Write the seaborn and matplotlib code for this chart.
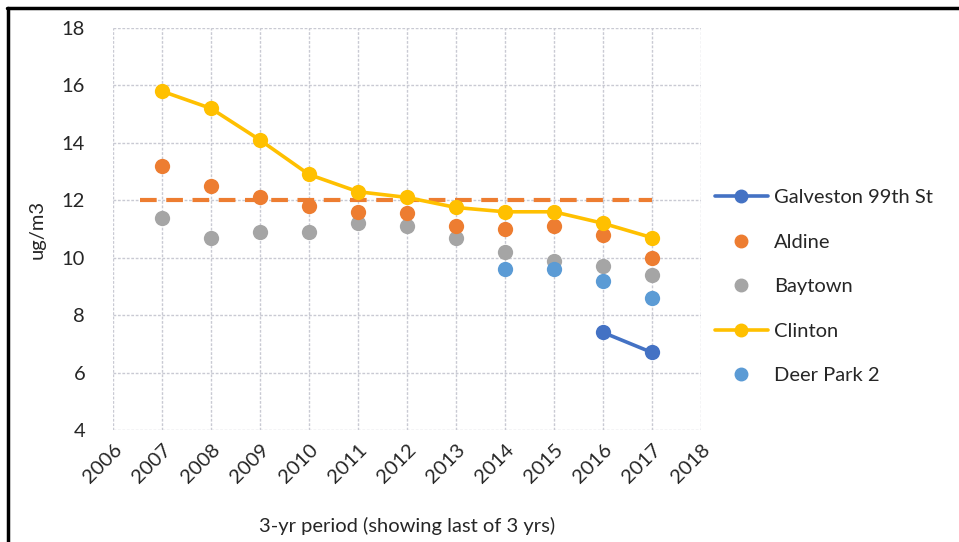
import matplotlib
matplotlib.use("Agg")
import matplotlib.pyplot as plt
from matplotlib.lines import Line2D
import seaborn as sns
import pandas as pd

# Annual values (3-yr period, labelled by the last year)
years = [2007, 2008, 2009, 2010, 2011, 2012, 2013, 2014, 2015, 2016, 2017]
galveston_years = [2016, 2017]
galveston = [7.4, 6.7]
aldine = [13.2, 12.5, 12.1, 11.8, 11.6, 11.55, 11.1, 11.0, 11.1, 10.8, 10.0]
baytown = [11.4, 10.7, 10.9, 10.9, 11.2, 11.1, 10.7, 10.2, 9.9, 9.7, 9.4]
clinton = [15.8, 15.2, 14.1, 12.9, 12.3, 12.1, 11.75, 11.6, 11.6, 11.2, 10.7]
deer_park_years = [2014, 2015, 2016, 2017]
deer_park = [9.6, 9.6, 9.2, 8.6]

# Annual standard reference line
standard_value = 12
standard_span = [2006.55, 2017.0]

x_ticks = list(range(2006, 2019))
y_ticks = list(range(4, 19, 2))

c_galv = "#4472C4"
c_ald = "#ED7D31"
c_bay = "#A5A5A5"
c_cli = "#FFC000"
c_dp = "#5B9BD5"
c_text = "#262626"
fs = 14.5

sns.set_theme(style="white")
plt.rcParams["font.family"] = ["Lato", "DejaVu Sans"]

fig = plt.figure(figsize=(9.59, 5.42), dpi=100)
ax = fig.add_axes([0.1178, 0.2066, 0.6131, 0.7417])

grid_kw = dict(color="#C9CAD3", lw=1.0, ls=(0, (2, 1.2)), zorder=0)
for xv in x_ticks:
    ax.axvline(xv, **grid_kw)
for yv in y_ticks:
    ax.axhline(yv, **grid_kw)

std_df = pd.DataFrame({"x": standard_span, "y": [standard_value] * 2})
sns.lineplot(data=std_df, x="x", y="y", ax=ax, color=c_ald, lw=3,
             ls=(0, (4, 2.3)), zorder=2)

ms = 11
df_ald = pd.DataFrame({"x": years, "y": aldine})
df_bay = pd.DataFrame({"x": years, "y": baytown})
df_dp = pd.DataFrame({"x": deer_park_years, "y": deer_park})
sns.scatterplot(data=df_bay, x="x", y="y", ax=ax, color=c_bay, s=ms ** 2,
                linewidth=0, zorder=3)
sns.scatterplot(data=df_ald, x="x", y="y", ax=ax, color=c_ald, s=ms ** 2,
                linewidth=0, zorder=3)
sns.scatterplot(data=df_dp, x="x", y="y", ax=ax, color=c_dp, s=ms ** 2,
                linewidth=0, zorder=3)

df_cli = pd.DataFrame({"x": years, "y": clinton})
df_galv = pd.DataFrame({"x": galveston_years, "y": galveston})
sns.lineplot(data=df_cli, x="x", y="y", ax=ax, color=c_cli, lw=2.6,
             marker="o", markersize=ms, markeredgewidth=0, zorder=4)
sns.lineplot(data=df_galv, x="x", y="y", ax=ax, color=c_galv, lw=2.6,
             marker="o", markersize=ms, markeredgewidth=0, zorder=4)

ax.set_xlim(2006, 2018)
ax.set_ylim(4, 18)
ax.set_xticks(x_ticks)
ax.set_xticklabels([str(v) for v in x_ticks], rotation=45, ha="right",
                   rotation_mode="anchor", fontsize=fs, color=c_text)
ax.set_yticks(y_ticks)
ax.set_yticklabels([str(v) for v in y_ticks], fontsize=fs, color=c_text)
ax.tick_params(axis="x", length=0, pad=8)
ax.tick_params(axis="y", length=0, pad=20)
for sp in ax.spines.values():
    sp.set_visible(False)

ax.set_xlabel("3-yr period (showing last of 3 yrs)", fontsize=fs,
              color=c_text, labelpad=22)
ax.set_ylabel("ug/m3", fontsize=fs, color=c_text, labelpad=12)

handles = [
    Line2D([], [], color=c_galv, lw=2.6, marker="o", markersize=9),
    Line2D([], [], color=c_ald, ls="none", marker="o", markersize=9),
    Line2D([], [], color=c_bay, ls="none", marker="o", markersize=9),
    Line2D([], [], color=c_cli, lw=2.6, marker="o", markersize=9),
    Line2D([], [], color=c_dp, ls="none", marker="o", markersize=9),
]
labels = ["Galveston 99th St", "Aldine", "Baytown", "Clinton", "Deer Park 2"]
fig.legend(handles, labels, loc="upper left", bbox_to_anchor=(0.727, 0.684),
           frameon=False, fontsize=fs, labelspacing=1.36, handlelength=2.6,
           handletextpad=0.3, labelcolor=c_text)

# Frame along the top and left edges
fig.add_artist(Line2D([0.007, 1.0], [0.985, 0.985], color="black", lw=2.5,
                      transform=fig.transFigure))
fig.add_artist(Line2D([0.008, 0.008], [0.0, 0.985], color="black", lw=2.5,
                      transform=fig.transFigure))

fig.savefig("out.png", dpi=100)
